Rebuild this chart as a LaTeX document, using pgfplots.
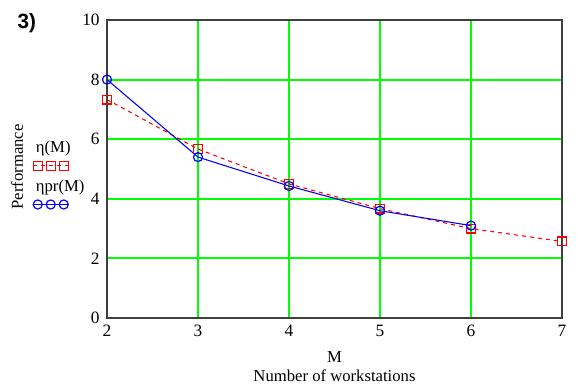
\documentclass[border=0pt]{standalone}
\usepackage{pgfplots}
\pgfplotsset{compat=1.18}
\usepackage{fontspec}
\setmainfont{Liberation Serif}
\newfontfamily\arialb{Liberation Sans}
\definecolor{mcgreen}{RGB}{0,255,0}
\definecolor{mcred}{RGB}{255,0,0}
\definecolor{mcblue}{RGB}{0,0,255}
\definecolor{mcaxis}{RGB}{64,64,64}
\begin{document}
\begin{tikzpicture}
\path[use as bounding box] (0,0) rectangle (433.5pt,290.25pt);
\node[anchor=north west, inner sep=0, font=\arialb\bfseries\fontsize{15.5}{18}\selectfont] at (13pt,280pt) {3)};
\begin{axis}[
  at={(80.25pt,51.75pt)}, anchor=south west,
  width=341.25pt, height=223.5pt, scale only axis,
  xmin=2, xmax=7, ymin=0, ymax=10,
  xtick={2,3,4,5,6,7}, ytick={0,2,4,6,8,10},
  grid=major,
  major grid style={draw=mcgreen, line width=1.4pt},
  axis line style={draw=mcaxis, line width=1.2pt},
  tick style={draw=none},
  /pgf/number format/assume math mode=true,
  tick label style={font=\fontsize{13}{15}\selectfont},
  xticklabel style={yshift=-2pt},
  yticklabel style={xshift=-2pt},
  xlabel={M\\Number of workstations},
  xlabel style={at={(axis description cs:0.5,0)}, anchor=north, yshift=-25pt, align=center, inner sep=0, font=\fontsize{12.5}{14}\selectfont},
  ylabel={Performance},
  ylabel style={at={(axis description cs:-0.1978,0.507)}, anchor=center, inner sep=0, font=\fontsize{12.5}{14}\selectfont},
  legend style={at={(axis description cs:-0.165,0.595)}, anchor=north west, draw=none, fill=none, inner sep=0pt, row sep=7pt, font=\fontsize{12.5}{14}\selectfont},
  legend cell align=left,
]
\addplot[mcred, line width=0.8pt, dash pattern=on 3pt off 3pt, mark=square, mark size=3.3pt, mark options={solid, line width=0.9pt},
  legend image code/.code={
    \draw[mcred, line width=0.8pt] (0pt,0pt) -- (27pt,0pt);
    \draw[mcred, line width=0.9pt, mark=square, mark size=3.3pt, only marks] plot coordinates {(3.75pt,0pt) (13.5pt,0pt) (23.25pt,0pt)};
    \node[anchor=base west, inner sep=0, text=black] at (2pt,10pt) {η(M)};
  }] coordinates {
  (2,7.33) (3,5.67) (4,4.5) (5,3.67) (6,3.0) (7,2.57)
};
\addlegendentry{}
\addplot[mcblue, line width=0.8pt, mark=o, mark size=3.4pt, mark options={line width=0.9pt},
  legend image code/.code={
    \draw[mcblue, line width=0.8pt] (0pt,0pt) -- (27pt,0pt);
    \draw[mcblue, line width=0.9pt, mark=o, mark size=3.4pt, only marks] plot coordinates {(3.75pt,0pt) (13.5pt,0pt) (23.25pt,0pt)};
    \node[anchor=base west, inner sep=0, text=black] at (2pt,10pt) {ηpr(M)};
  }] coordinates {
  (2,8.0) (3,5.4) (4,4.43) (5,3.6) (6,3.1)
};
\addlegendentry{}
\end{axis}
\end{tikzpicture}
\end{document}
